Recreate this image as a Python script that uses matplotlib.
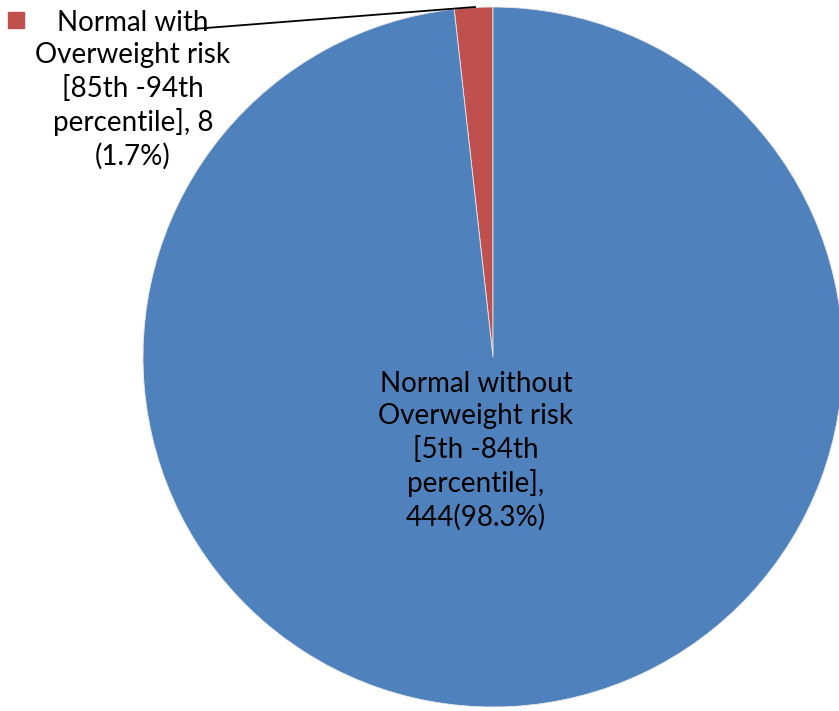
import matplotlib
matplotlib.use("Agg")
import matplotlib.pyplot as plt
from matplotlib.patches import Rectangle

# BMI category counts
labels = ["Normal with\nOverweight risk\n[85th -94th\npercentile], 8\n(1.7%)",
          "Normal without\nOverweight risk\n[5th -84th\npercentile],\n444(98.3%)"]
counts = [8, 444]
colors = ["#C0504D", "#4F81BD"]

W, H = 839, 711
fig = plt.figure(figsize=(W / 100, H / 100), dpi=100)
ax = fig.add_axes([0, 0, 1, 1])

plt.rcParams["font.family"] = ["Lato", "DejaVu Sans"]

cx, cy, r = 493, H - 357, 350
ax.pie(counts, colors=colors, startangle=90, counterclock=True,
       center=(cx, cy), radius=r, frame=True,
       wedgeprops=dict(linewidth=0.6, edgecolor="#e8e8e8"))
ax.set_xlim(0, W)
ax.set_ylim(0, H)
ax.set_aspect("equal")
ax.axis("off")

# label inside the large slice
ax.text(476, H - 451, labels[1], ha="center", va="center",
        fontsize=20, linespacing=1.29, color="black")

# outside label with leader line and legend key
ax.text(133, H - 90, labels[0], ha="center", va="center",
        fontsize=20, linespacing=1.29, color="black")
ax.plot([193, 475], [H - 29, H - 7], color="black", lw=1.3)
ax.add_patch(Rectangle((8, H - 28), 16, 16, color=colors[0]))

fig.savefig("out.png", dpi=100)
